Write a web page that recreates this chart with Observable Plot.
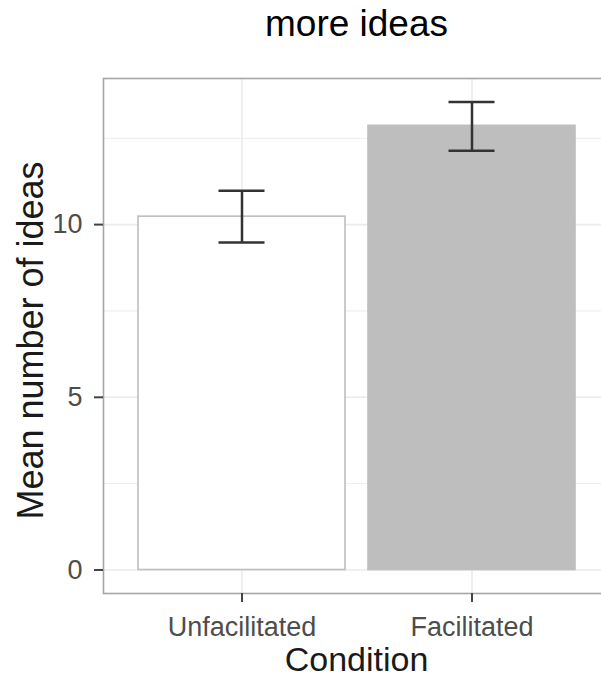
<!DOCTYPE html>
<html><head><meta charset="utf-8">
<script src="https://cdn.jsdelivr.net/npm/d3@7"></script>
<script src="https://cdn.jsdelivr.net/npm/@observablehq/plot@0.6"></script>
<style>html,body{margin:0;padding:0;background:#fff;overflow:hidden}</style>
</head><body><div id="chart"></div>
<script>
const conditions = ["Unfacilitated", "Facilitated"];
const meanIdeas = [10.23, 12.86];
const ciLow = [9.48, 12.14];
const ciHigh = [10.98, 13.55];
const yTicks = [0, 5, 10];
const yMinorTicks = [2.5, 7.5, 12.5];
const barFills = ["#ffffff", "#bebebe"];
const title = "more ideas";
const xTitle = "Condition";
const yTitle = "Mean number of ideas";

const data = conditions.map((c, i) => ({condition: c, mean: meanIdeas[i], lo: ciLow[i], hi: ciHigh[i], fill: barFills[i]}));

const plot = Plot.plot({
  width: 601, height: 678,
  marginTop: 78, marginBottom: 85, marginLeft: 103, marginRight: -8,
  style: {fontFamily: "'Liberation Sans', Arial, sans-serif", background: "#fff", overflow: "hidden"},
  x: {domain: conditions, paddingInner: 0.1, paddingOuter: 0.15, align: 0.5},
  y: {domain: [-0.68, 14.23]},
  color: {type: "identity"},
  marks: [
    Plot.gridY(yMinorTicks, {stroke: "#ebebeb", strokeOpacity: 1, strokeWidth: 1}),
    Plot.gridY(yTicks, {stroke: "#ebebeb", strokeOpacity: 1, strokeWidth: 1.6}),
    Plot.gridX({stroke: "#ebebeb", strokeOpacity: 1, strokeWidth: 1.6}),
    Plot.barY(data, {x: "condition", y1: 0, y2: "mean", fill: d => d.fill, stroke: "#bebebe", strokeWidth: 1.6}),
    Plot.ruleX(data, {x: "condition", y1: "lo", y2: "hi", stroke: "#333", strokeWidth: 2.5}),
    Plot.tickY(data, {x: "condition", y: "lo", insetLeft: 80.5, insetRight: 80.5, stroke: "#333", strokeWidth: 2.5}),
    Plot.tickY(data, {x: "condition", y: "hi", insetLeft: 80.5, insetRight: 80.5, stroke: "#333", strokeWidth: 2.5}),
    Plot.frame({stroke: "#a6a6a6", strokeWidth: 1.6}),
    Plot.axisY(yTicks, {tickSize: 9, tickPadding: 12, fontSize: 27, label: null, stroke: "#444", strokeWidth: 2, fill: "#4d4d4d"}),
    Plot.axisX({tickSize: 9, tickPadding: 14, fontSize: 27, label: null, stroke: "#444", strokeWidth: 2, fill: "#4d4d4d"}),
    Plot.text([title], {text: d => d, frameAnchor: "top", dy: -43, lineAnchor: "bottom", fontSize: 37, fill: "#000"}),
    Plot.text([xTitle], {text: d => d, frameAnchor: "bottom", dy: 77, lineAnchor: "bottom", fontSize: 34, fill: "#1a1a1a"}),
    Plot.text([yTitle], {text: d => d, frameAnchor: "left", textAnchor: "middle", dx: -61, dy: 4.5, rotate: -90, lineAnchor: "bottom", fontSize: 36, fill: "#1a1a1a"})
  ]
});
document.getElementById("chart").appendChild(plot);
</script>
</body></html>
